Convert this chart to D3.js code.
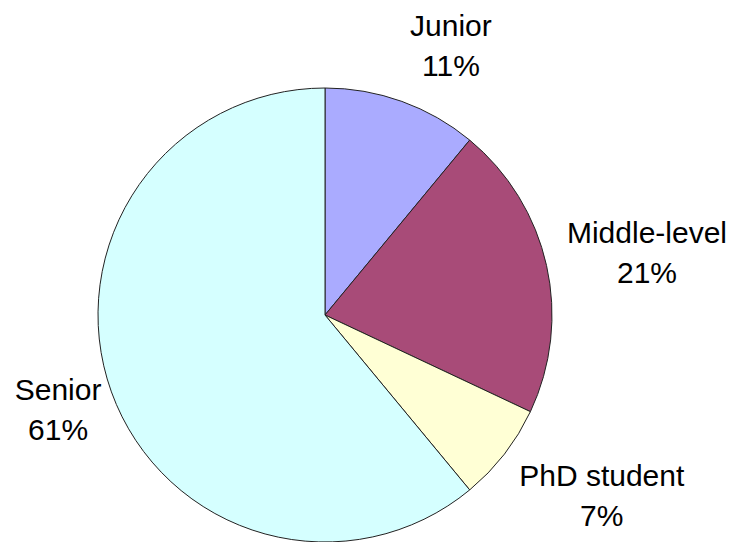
<!DOCTYPE html>
<html>
<head>
<meta charset="utf-8">
<script src="https://cdn.jsdelivr.net/npm/d3@7"></script>
<style>
  body { margin: 0; background: #fff; }
  svg { display: block; }
  text { font-family: "Liberation Sans", Arial, sans-serif; fill: #000; }
</style>
</head>
<body>
<svg id="chart" width="733" height="542"></svg>
<script>
// 数据
const categories = ['Junior', 'Middle-level', 'PhD student', 'Senior'];
const shares = [11, 21, 7, 61];
const sliceColors = ['#aaabff', '#a84b78', '#ffffd5', '#d5ffff'];

// 标签位置（角度°，半径）
const labelAngle = [25, 79, 123, 250.6];
const labelRadius = [298, 328, 330, 283];

const width = 733, height = 542;
const cx = 325, cy = 315, radius = 227;
const fontSize = 30, lineGap = 40;

const svg = d3.select('#chart');
const g = svg.append('g').attr('transform', `translate(${cx},${cy})`);

const data = categories.map((c, i) => ({ name: c, value: shares[i], i }));
const pie = d3.pie().value((d) => d.value).sort(null); // 从12点方向顺时针
const arc = d3.arc().innerRadius(0).outerRadius(radius);

g.selectAll('path.slice').data(pie(data)).enter().append('path')
  .attr('class', 'slice')
  .attr('d', arc)
  .attr('fill', (d) => sliceColors[d.data.i])
  .attr('stroke', '#222')
  .attr('stroke-width', 1)
  .attr('stroke-linejoin', 'miter');

// 标签
const label = g.selectAll('text.lbl').data(data).enter().append('text')
  .attr('class', 'lbl')
  .attr('text-anchor', 'middle')
  .attr('font-size', fontSize)
  .attr('transform', (d) => {
    const a = labelAngle[d.i] * Math.PI / 180;
    const r = labelRadius[d.i];
    const x = r * Math.sin(a);
    const y = -r * Math.cos(a) - 9; // 两行文字的视觉中心
    return `translate(${x},${y})`;
  });
label.append('tspan').attr('x', 0).attr('y', 0).text((d) => d.name);
label.append('tspan').attr('x', 0).attr('y', lineGap).text((d) => d.value + '%');
</script>
</body>
</html>
